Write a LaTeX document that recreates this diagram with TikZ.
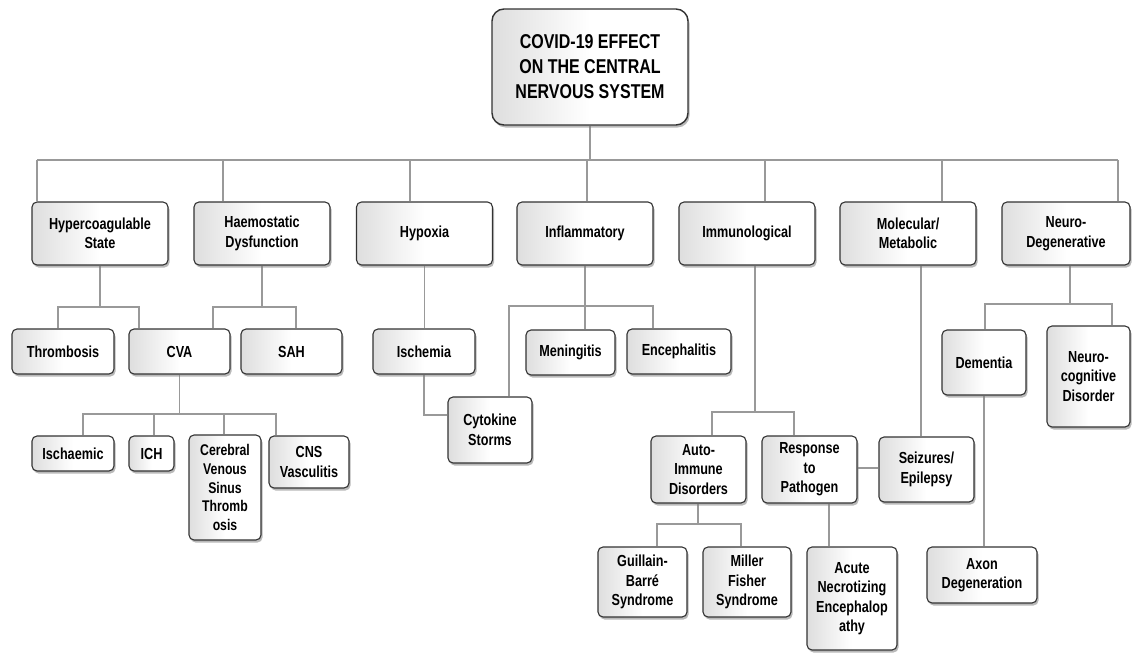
\documentclass[tikz,border=0pt]{standalone}
\usepackage{fontspec}
\setmainfont[FakeStretch=0.79]{Liberation Sans}
\newfontfamily\titlefont[FakeStretch=0.8]{Liberation Sans}
\usetikzlibrary{shadows,backgrounds}
\begin{document}
\begin{tikzpicture}[x=1pt,y=-1pt,
  box/.style={draw=black!80, line width=1.1pt, rounded corners=5pt, align=center,
    inner sep=0pt, left color=black!13, right color=white, middle color=white,
    drop shadow={shadow xshift=1.5pt, shadow yshift=-2.5pt, fill=black!50, opacity=0.55},
    font=\bfseries\fontsize{16}{19.5}\selectfont},
  sz/.style 2 args={minimum width=#1pt, minimum height=#2pt},
  conn/.style={draw=black!40, line width=1.5pt}]
\useasboundingbox (0,0) rectangle (1133,653);
% top
\node[box, sz={196}{116}, rounded corners=12pt, line width=1.4pt,
  font=\titlefont\bfseries\fontsize{20}{25}\selectfont] (top) at (590,67)
  {COVID-19 EFFECT\\ON THE CENTRAL\\NERVOUS SYSTEM};
% categories
\node[box, sz={136}{63}] (hyper) at (100,233.5) {Hypercoagulable\\State};
\node[box, sz={136}{63}] (haemo) at (262,233.5) {Haemostatic\\Dysfunction};
\node[box, sz={136}{63}] (hypoxia) at (424.5,233.5) {Hypoxia};
\node[box, sz={136}{63}] (inflam) at (585,233.5) {Inflammatory};
\node[box, sz={136}{63}] (immuno) at (747,233.5) {Immunological};
\node[box, sz={136}{63}] (molec) at (908,233.5) {Molecular/\\Metabolic};
\node[box, sz={128}{63}] (neuro) at (1066,233.5) {Neuro-\\Degenerative};
% level 2
\node[box, sz={102}{45}] (thromb) at (63,351.5) {Thrombosis};
\node[box, sz={101}{45}] (cva) at (179.5,351.5) {CVA};
\node[box, sz={101}{45}] (sah) at (291.5,351.5) {SAH};
\node[box, sz={102}{45}] (ischemia) at (424,351.5) {Ischemia};
\node[box, sz={89}{45}] (mening) at (570.5,352.5) {Meningitis};
\node[box, sz={104}{45}] (enceph) at (679,351.5) {Encephalitis};
\node[box, sz={84}{65}] (dementia) at (984,362.5) {Dementia};
\node[box, sz={83}{101}] (neurocog) at (1088.5,376.5) {Neuro-\\cognitive\\Disorder};
% level 3
\node[box, sz={82}{35}] (ischaemic) at (73,453.5) {Ischaemic};
\node[box, sz={45}{35}] (ich) at (151.5,453.5) {ICH};
\node[box, sz={72}{105}, font=\bfseries\fontsize{15.5}{18.7}\selectfont] (cerebral) at (225,487.5) {Cerebral\\Venous\\Sinus\\Thromb\\osis};
\node[box, sz={80}{52}] (cns) at (309,462) {CNS\\Vasculitis};
\node[box, sz={84}{66}] (cytokine) at (490,430) {Cytokine\\Storms};
\node[box, sz={95}{67}] (auto) at (698.5,469.5) {Auto-\\Immune\\Disorders};
\node[box, sz={95}{67}] (response) at (809.5,469.5) {Response\\to\\Pathogen};
\node[box, sz={95}{65}] (seizures) at (926.5,469.5) {Seizures/\\Epilepsy};
% level 4
\node[box, sz={89}{70}] (guillain) at (642.5,582) {Guillain-\\Barré\\Syndrome};
\node[box, sz={88}{70}] (miller) at (747,582) {Miller\\Fisher\\Syndrome};
\node[box, sz={90}{103}] (acute) at (852,598.5) {Acute\\Necrotizing\\Encephalop\\athy};
\node[box, sz={110}{56}] (axon) at (982,575) {Axon\\Degeneration};
% junction coordinates
\coordinate (b1) at (37,160); \coordinate (b2) at (223,160); \coordinate (b3) at (410,160);
\coordinate (b4) at (587,160); \coordinate (b5) at (765,160); \coordinate (b6) at (942,160);
\coordinate (b7) at (1118,160);
\coordinate (h1) at (58,307); \coordinate (h2) at (139,307);
\coordinate (g1) at (213,307); \coordinate (g2) at (296,307);
\coordinate (c1) at (83,414); \coordinate (c2) at (154,414); \coordinate (c3) at (224,414); \coordinate (c4) at (276,414);
\coordinate (f1) at (509,306); \coordinate (f3) at (653,306);
\coordinate (m1) at (712,412); \coordinate (mj) at (755,412); \coordinate (m2) at (794,412);
\coordinate (mx) at (921,300);
\coordinate (n1) at (985,304); \coordinate (nj) at (1070,304); \coordinate (n2) at (1112,304);
\coordinate (a1) at (657,524); \coordinate (aj) at (698,524); \coordinate (a2) at (741,524);
\coordinate (rx) at (829,520);
\begin{scope}[on background layer]
\fill[white] (0,0) rectangle (1133,653);
% main bus
\draw[conn] (top.south) -- (top.south |- b1);
\draw[conn] (b1) -- (b7);
\draw[conn] (b1) -- (b1 |- hyper.north);
\draw[conn] (b2) -- (b2 |- haemo.north);
\draw[conn] (b3) -- (b3 |- hypoxia.north);
\draw[conn] (b4) -- (b4 |- inflam.north);
\draw[conn] (b5) -- (b5 |- immuno.north);
\draw[conn] (b6) -- (b6 |- molec.north);
\draw[conn] (b7) -- (b7 |- neuro.north);
% hypercoagulable
\draw[conn] (hyper.south) -- (hyper.south |- h1);
\draw[conn] (thromb.north -| h1) -- (h1) -- (h2) -- (cva.north -| h2);
% haemostatic
\draw[conn] (haemo.south) -- (haemo.south |- g1);
\draw[conn] (cva.north -| g1) -- (g1) -- (g2) -- (sah.north -| g2);
% CVA
\draw[conn] (cva.south) -- (cva.south |- c1);
\draw[conn] (ischaemic.north -| c1) -- (c1) -- (c4) -- (cns.north -| c4);
\draw[conn] (c2) -- (ich.north -| c2);
\draw[conn] (c3) -- (cerebral.north -| c3);
% hypoxia
\draw[conn] (hypoxia.south) -- (hypoxia.south |- ischemia.north);
\draw[conn] (ischemia.south) |- ([yshift=15pt]cytokine.west);
% inflammatory
\draw[conn] (inflam.south) -- (inflam.south |- f1);
\draw[conn] (cytokine.north -| f1) -- (f1) -- (f3) -- (enceph.north -| f3);
\draw[conn] (inflam.south |- f1) -- (mening.north -| inflam.south);
% immunological
\draw[conn] (immuno.south -| mj) -- (mj);
\draw[conn] (auto.north -| m1) -- (m1) -- (m2) -- (response.north -| m2);
\draw[conn] ([yshift=1.5pt]response.east) -- ([yshift=1.5pt]response.east -| seizures.west);
% molecular
\draw[conn] (molec.south -| mx) -- (seizures.north -| mx);
% neuro
\draw[conn] (neuro.south -| nj) -- (nj);
\draw[conn] (dementia.north -| n1) -- (n1) -- (n2) -- (neurocog.north -| n2);
\draw[conn] (dementia.south) -- (dementia.south |- axon.north);
% auto-immune
\draw[conn] (auto.south -| aj) -- (aj);
\draw[conn] (guillain.north -| a1) -- (a1) -- (a2) -- (miller.north -| a2);
% response
\draw[conn] (response.south -| rx) -- (acute.north -| rx);
\end{scope}
\end{tikzpicture}
\end{document}
